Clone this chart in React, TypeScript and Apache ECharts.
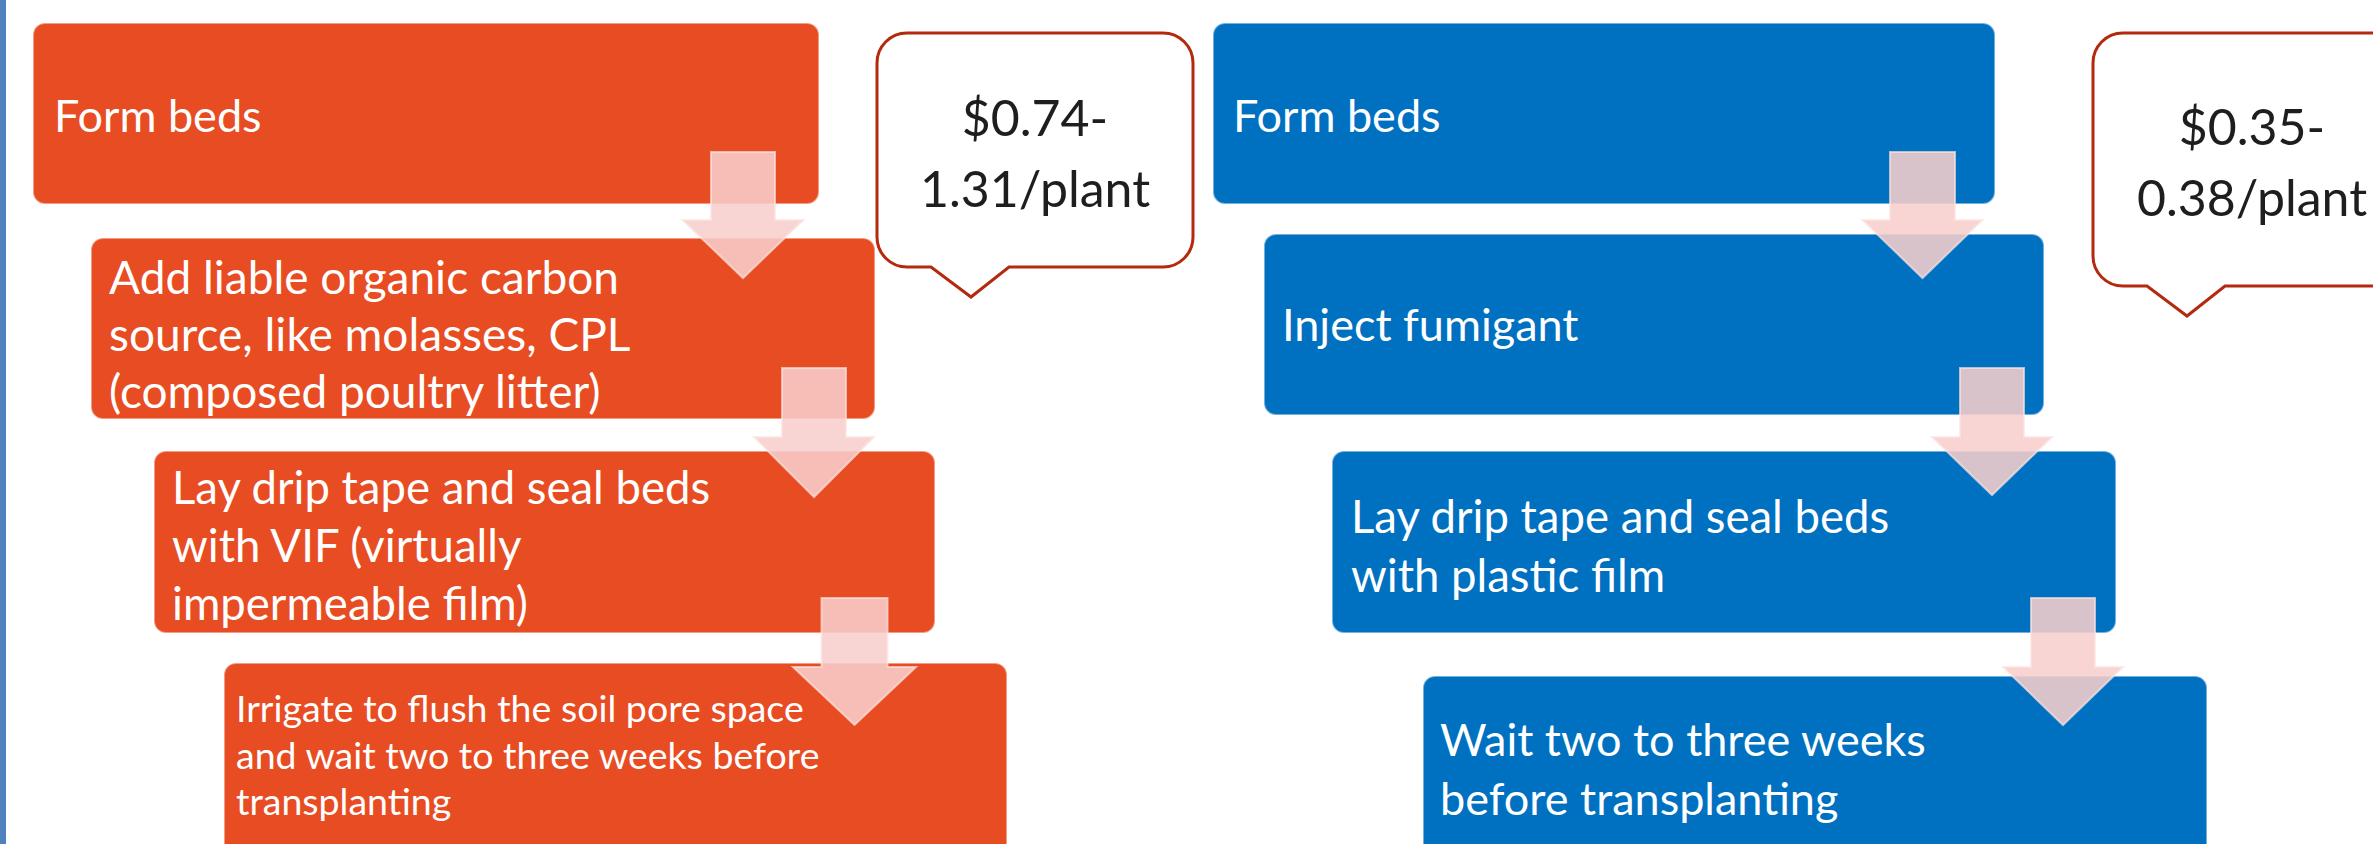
import React, { useEffect, useRef } from "react";
import * as echarts from "echarts";

// ---- content ----
const organicSteps: string[] = [
  "Form beds",
  "Add liable organic carbon\nsource, like molasses, CPL\n(composed poultry litter)",
  "Lay drip tape and seal beds\nwith VIF (virtually\nimpermeable film)",
  "Irrigate to flush the soil pore space\nand wait two to three weeks before\ntransplanting",
];
const fumigantSteps: string[] = [
  "Form beds",
  "Inject fumigant",
  "Lay drip tape and seal beds\nwith plastic film",
  "Wait two to three weeks\nbefore transplanting",
];
const costLabels: string[] = ["$0.74-\n1.31/plant", "$0.35-\n0.38/plant"];

// ---- layout (px) ----
// boxes: [x, y, w, h]
const organicBoxes = [
  [33, 23, 786, 181],
  [91, 238, 784, 181],
  [154, 451, 781, 182],
  [224, 663, 783, 210],
];
const fumigantBoxes = [
  [1213, 23, 782, 181],
  [1264, 234, 780, 181],
  [1332, 451, 784, 182],
  [1423, 676, 784, 210],
];
// text: [x, centerY, fontSize, lineHeight]
const organicText = [
  [54, 113, 45, 57],
  [109, 331, 46, 57],
  [172, 542, 45.5, 58],
  [236, 752, 37.5, 46.5],
];
const fumigantText = [
  [1233, 113, 45, 57],
  [1282, 322, 45, 57],
  [1351, 543, 45.5, 59],
  [1440, 766, 45, 59],
];
// arrows: [centerX, top, headBase, tip, shaftW, headW]
const organicArrows = [
  [743, 152, 220, 278, 64, 121],
  [814, 368, 437, 497, 64, 120],
  [854.5, 598, 667, 725, 66, 123],
];
const fumigantArrows = [
  [1922.5, 152, 220, 278, 65, 120],
  [1992, 368, 437, 495, 64, 120],
  [2063, 598, 667, 725, 64, 120],
];
// bubbles: [x, y, w, h]
const bubbles = [
  [877, 33, 316, 234],
  [2093, 33, 318, 253],
];

const ORANGE = "#e84c22";
const BLUE = "#0070c0";
const FONT = "Lato, 'Open Sans', sans-serif";

function bubblePath(w: number, h: number): string {
  const r = 30;
  const t0 = 54, t1 = 132, tx = 94, th = 30;
  return [
    `M ${r} 0`,
    `L ${w - r} 0`,
    `A ${r} ${r} 0 0 1 ${w} ${r}`,
    `L ${w} ${h - r}`,
    `A ${r} ${r} 0 0 1 ${w - r} ${h}`,
    `L ${t1} ${h}`,
    `L ${tx} ${h + th}`,
    `L ${t0} ${h}`,
    `L ${r} ${h}`,
    `A ${r} ${r} 0 0 1 0 ${h - r}`,
    `L 0 ${r}`,
    `A ${r} ${r} 0 0 1 ${r} 0`,
    "Z",
  ].join(" ");
}

function arrowPoints(a: number[]): number[][] {
  const [cx, top, hb, tip, sw, hw] = a;
  return [
    [cx - sw / 2, top],
    [cx + sw / 2, top],
    [cx + sw / 2, hb],
    [cx + hw / 2, hb],
    [cx, tip],
    [cx - hw / 2, hb],
    [cx - sw / 2, hb],
  ];
}

export default function App() {
  const ref = useRef<HTMLDivElement>(null);

  useEffect(() => {
    if (!ref.current) return;
    bubbles.forEach((b, i) => {
      echarts.graphic.registerShape(
        "bubble" + i,
        echarts.graphic.extendPath(bubblePath(b[2], b[3]), {}) as any
      );
    });
    const chart = echarts.init(ref.current, null, { renderer: "svg" });

    const elements: any[] = [];
    elements.push({
      type: "rect",
      shape: { x: 0, y: 0, width: 6, height: 844 },
      style: { fill: "#4f81bd" },
      z: 1,
    });

    const addColumn = (
      steps: string[],
      boxes: number[][],
      texts: number[][],
      arrows: number[][],
      color: string
    ) => {
      steps.forEach((s, i) => {
        const [x, y, w, h] = boxes[i];
        elements.push({
          type: "rect",
          shape: { x, y, width: w, height: h, r: 12 },
          style: { fill: color, stroke: "rgba(255,255,255,0.45)", lineWidth: 2 },
          z: 2,
        });
        const [tx, ty, fs, lh] = texts[i];
        elements.push({
          type: "text",
          x: tx,
          y: ty + 2,
          style: {
            text: s,
            fill: "#ffffff",
            fontFamily: FONT,
            fontSize: fs,
            lineHeight: lh,
            align: "left",
            verticalAlign: "middle",
          },
          z: 3,
        });
      });
      arrows.forEach((a) => {
        elements.push({
          type: "polygon",
          shape: { points: arrowPoints(a) },
          style: {
            fill: "rgba(247,206,204,0.88)",
            stroke: "rgba(252,228,224,0.7)",
            lineWidth: 2,
          },
          z: 4,
        });
      });
    };

    addColumn(organicSteps, organicBoxes, organicText, organicArrows, ORANGE);
    addColumn(fumigantSteps, fumigantBoxes, fumigantText, fumigantArrows, BLUE);

    bubbles.forEach((b, i) => {
      const [x, y, w, h] = b;
      elements.push({
        type: "bubble" + i,
        x,
        y,
        style: { fill: "#ffffff", stroke: "#b32a0e", lineWidth: 3 },
        z: 5,
      });
      elements.push({
        type: "text",
        x: x + w / 2,
        y: y + h / 2 + 2,
        style: {
          text: costLabels[i],
          fill: "#1e1e1e",
          fontFamily: FONT,
          fontSize: 50,
          lineHeight: 71,
          align: "center",
          verticalAlign: "middle",
        },
        z: 6,
      });
    });

    chart.setOption({
      animation: false,
      backgroundColor: "#ffffff",
      graphic: { elements },
    });

    return () => {
      chart.dispose();
    };
  }, []);

  return (
    <div
      ref={ref}
      style={{ position: "fixed", left: 0, top: 0, width: 2373, height: 844 }}
    />
  );
}
